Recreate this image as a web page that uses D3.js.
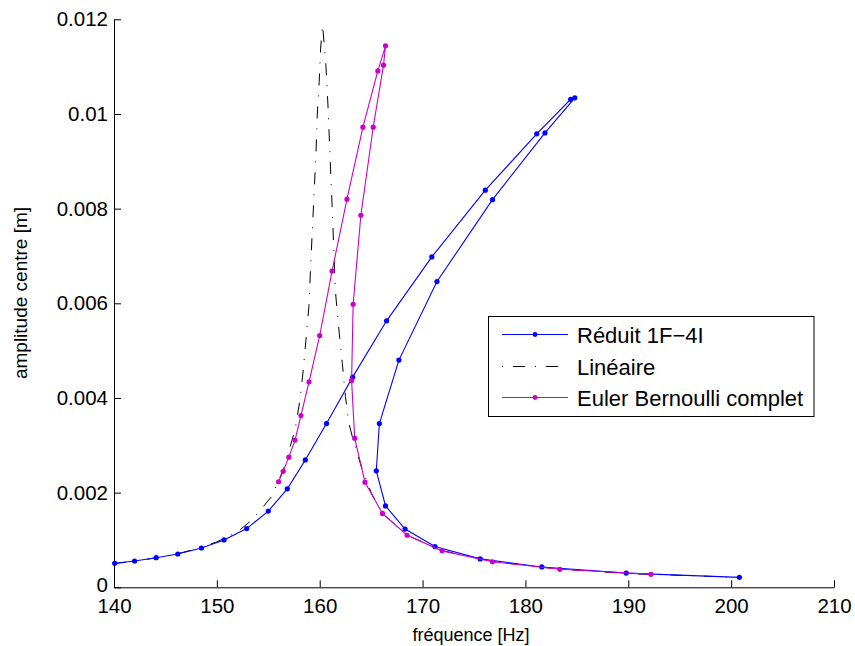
<!DOCTYPE html>
<html>
<head>
<meta charset="utf-8">
<script src="https://cdn.jsdelivr.net/npm/d3@7"></script>
<style>
  html, body { margin: 0; padding: 0; background: #fff; }
  svg text { font-family: "Liberation Sans", Arial, Helvetica, sans-serif; }
</style>
</head>
<body>
<svg id="chart" width="855" height="646"></svg>
<script>
// ---- data ----
const xTicks = [140, 150, 160, 170, 180, 190, 200, 210];
const yTicks = [0, 0.002, 0.004, 0.006, 0.008, 0.01, 0.012];
const seriesNames = ["Réduit 1F\u22124I", "Linéaire", "Euler Bernoulli complet"];

const reduitFreq = [140.07, 142.0, 144.1, 146.2, 148.5, 150.7, 152.9, 155.0, 156.85, 158.6,
  160.66, 163.2, 166.5, 170.9, 176.1, 181.1, 184.4, 184.8, 181.9, 176.8, 171.4, 167.7,
  165.8, 165.5, 166.4, 168.3, 171.2, 175.6, 181.6, 189.8, 200.8];
const reduitAmp = [0.000507, 0.000556, 0.000626, 0.000703, 0.00083, 0.00100, 0.00124, 0.00161, 0.00208, 0.00269,
  0.00346, 0.00444, 0.00563, 0.00698, 0.00839, 0.00958, 0.01031, 0.01034, 0.00960, 0.00819, 0.00646, 0.00480,
  0.00346, 0.00246, 0.00172, 0.00123, 0.00086, 0.00060, 0.00043, 0.00030, 0.00021];

const lineaireFreq = [140.0, 142.0, 144.0, 146.0, 148.0, 150.0, 152.0, 153.4, 155.3, 156.5, 157.4, 157.6,
  158.08, 158.4, 158.66, 158.95, 159.1, 159.3, 159.5, 159.63, 159.76, 159.95, 160.09, 160.28,
  160.6, 160.8, 161.0, 161.25, 161.5, 161.6, 161.9, 162.2, 162.5, 162.85, 163.25, 164.05,
  165.0, 166.1, 168.5, 172.0, 177.0, 183.0, 190.0, 200.8];
const lineaireAmp = [0.00050, 0.00055, 0.00062, 0.00070, 0.00081, 0.00096, 0.00117, 0.00142, 0.00191, 0.00250, 0.00318, 0.00332,
  0.00396, 0.00459, 0.00522, 0.00593, 0.00670, 0.00762, 0.00854, 0.00913, 0.00998, 0.01068, 0.01139, 0.01188,
  0.01103, 0.01019, 0.00913, 0.00783, 0.00635, 0.00607, 0.00537, 0.00473, 0.00403, 0.00346, 0.00311, 0.00255,
  0.00200, 0.00156, 0.00110, 0.00077, 0.00054, 0.00039, 0.00029, 0.00021];

const eulerFreq = [156.0, 156.45, 157.0, 157.6, 158.18, 158.96, 160.0, 161.2, 162.65, 164.2, 165.65, 166.4,
  166.2, 165.2, 164.0, 163.25, 163.1, 163.4, 164.4, 166.1, 168.5, 171.9, 176.8, 183.35, 192.2];
const eulerAmp = [0.00223, 0.00245, 0.00275, 0.00311, 0.00363, 0.00434, 0.00532, 0.00668, 0.00820, 0.00972, 0.01091, 0.01144,
  0.01103, 0.00972, 0.00786, 0.00598, 0.00437, 0.00315, 0.00222, 0.00156, 0.00110, 0.00077, 0.00054, 0.00038, 0.000275];

// ---- chart ----
const svg = d3.select("#chart");
const x = d3.scaleLinear().domain([140, 210]).range([114, 834]);
const y = d3.scaleLinear().domain([0, 0.012]).range([587.3, 19.3]);

const zip = (fs, as) => fs.map((f, i) => [f, as[i]]);
const reduit = zip(reduitFreq, reduitAmp);
const lineaire = zip(lineaireFreq, lineaireAmp);
const euler = zip(eulerFreq, eulerAmp);

const line = d3.line().x(d => x(d[0])).y(d => y(d[1]));

const BLUE = "#0000ff", MAG = "#cc00cc";
const DASH = "12,10,1,10";

// axes
const xAxis = d3.axisBottom(x).tickValues(xTicks).tickSizeInner(-7).tickSizeOuter(0).tickPadding(11)
  .tickFormat(d3.format("d"));
const yAxis = d3.axisLeft(y).tickValues(yTicks).tickSizeInner(-7).tickSizeOuter(0).tickPadding(6)
  .tickFormat(d => String(+d.toFixed(4)));

const gx = svg.append("g").attr("transform", `translate(0,${y(0)})`).call(xAxis);
const gy = svg.append("g").attr("transform", `translate(${x(140)},0)`).call(yAxis);
[gx, gy].forEach(g => {
  g.select(".domain").attr("stroke", "#000").attr("stroke-width", 1);
  g.selectAll(".tick line").attr("stroke", "#000");
  g.selectAll("text").attr("fill", "#000").attr("font-size", 20.5);
});
// nudge the "0" y-label up slightly so it does not touch the "140" label
gy.selectAll(".tick text").filter(d => d === 0).attr("dy", "0.2em");

// series
svg.append("path").datum(lineaire).attr("d", line)
  .attr("fill", "none").attr("stroke", "#000").attr("stroke-width", 1).attr("stroke-dasharray", DASH);

svg.append("path").datum(reduit).attr("d", line)
  .attr("fill", "none").attr("stroke", BLUE).attr("stroke-width", 1.1);
svg.append("g").selectAll("circle").data(reduit).join("circle")
  .attr("cx", d => x(d[0])).attr("cy", d => y(d[1])).attr("r", 2.6).attr("fill", BLUE);

svg.append("path").datum(euler).attr("d", line)
  .attr("fill", "none").attr("stroke", MAG).attr("stroke-width", 1.1);
svg.append("g").selectAll("circle").data(euler).join("circle")
  .attr("cx", d => x(d[0])).attr("cy", d => y(d[1])).attr("r", 2.6).attr("fill", MAG);

// axis labels
svg.append("text").attr("x", 471).attr("y", 641).attr("text-anchor", "middle")
  .attr("font-size", 18).text("fréquence [Hz]");
svg.append("text").attr("transform", "translate(27,293) rotate(-90)").attr("text-anchor", "middle")
  .attr("font-size", 19).text("amplitude centre [m]");

// legend
const lg = svg.append("g");
lg.append("rect").attr("x", 488.5).attr("y", 316.5).attr("width", 325.5).attr("height", 100)
  .attr("fill", "#fff").attr("stroke", "#000").attr("stroke-width", 1);
const rows = [
  {name: seriesNames[0], color: BLUE, dash: null, marker: true, cy: 334.5},
  {name: seriesNames[1], color: "#000", dash: DASH, marker: false, cy: 366.5},
  {name: seriesNames[2], color: MAG, dash: null, marker: true, cy: 397.5}
];
rows.forEach(r => {
  const l = lg.append("line").attr("x1", 502).attr("x2", 568).attr("y1", r.cy).attr("y2", r.cy)
    .attr("stroke", r.color).attr("stroke-width", 1);
  if (r.dash) l.attr("stroke-dasharray", "1,10,12,10");
  if (r.marker) lg.append("circle").attr("cx", 535).attr("cy", r.cy).attr("r", 2.4).attr("fill", r.color);
  lg.append("text").attr("x", 577).attr("y", r.cy + 8).attr("font-size", 22).attr("fill", "#000").text(r.name);
});
</script>
</body>
</html>
